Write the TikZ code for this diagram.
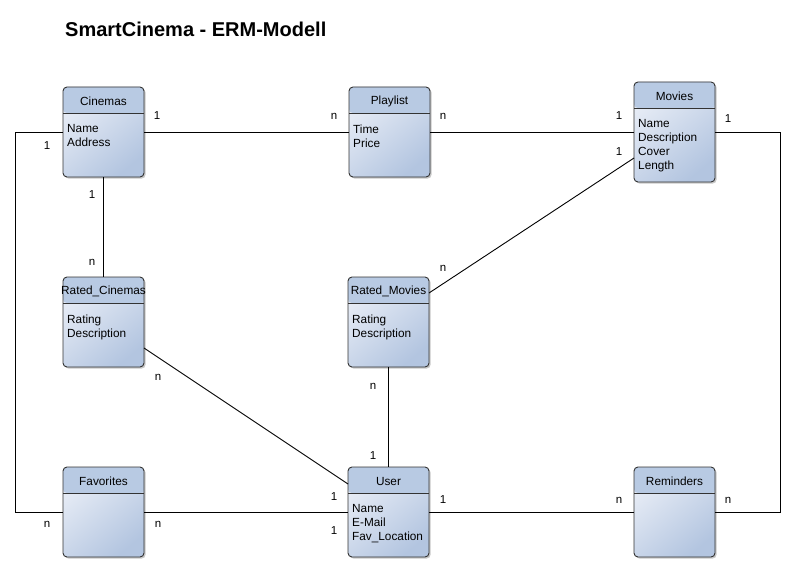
\documentclass[tikz,border=0pt]{standalone}
\usepackage{fontspec}
\setmainfont{Liberation Sans}
\usetikzlibrary{shadows}
\definecolor{headcol}{HTML}{B8CAE3}
\definecolor{bodyA}{HTML}{E8EDF6}
\definecolor{bodyB}{HTML}{B3C5E0}
\definecolor{edgecol}{HTML}{333333}
\tikzset{
  entity/.style={draw=edgecol, line width=0.9pt, rounded corners=4pt,
    minimum width=81pt, minimum height=90pt, inner sep=0pt, outer sep=0pt,
    shading=axis, top color=bodyA, bottom color=bodyB, shading angle=40,
    drop shadow={shadow xshift=1.6pt, shadow yshift=-1.6pt, opacity=0.22, fill=black},
    path picture={
      \fill[headcol] (path picture bounding box.north west) rectangle
        ([yshift=-26pt]path picture bounding box.north east);
      \draw[edgecol, line width=0.9pt] ([yshift=-26pt]path picture bounding box.north west) --
        ([yshift=-26pt]path picture bounding box.north east);
    }},
  etitle/.style={inner sep=0pt, font=\fontsize{11.8}{14}\selectfont},
  eattr/.style={inner sep=0pt, align=left, font=\fontsize{11.8}{14}\selectfont},
  card/.style={inner sep=0pt, font=\fontsize{11.5}{14}\selectfont},
  rel/.style={draw=black, line width=0.9pt}
}
\newcommand\myent[6][90]{%
  \node[entity, minimum height=#1pt, anchor=north west] (#2) at (#3,#4) {};
  \node[etitle] (#2-t) at ([yshift=-14pt]#2.north) {#5};
  \node[eattr, anchor=north west] (#2-a) at ([xshift=4pt,yshift=-37.5pt]#2.north west) {#6};
}
\begin{document}
\begin{tikzpicture}[x=1pt,y=-1pt]
\useasboundingbox[fill=white] (0,0) rectangle (794,572);
\node[anchor=base west, inner sep=0pt, font=\fontsize{20}{22}\selectfont\bfseries] (title) at (65,37) {SmartCinema - ERM-Modell};

\myent{cin}{63}{87}{Cinemas}{Name\\Address}
\myent{pla}{349}{87}{Playlist}{Time\\Price}
\myent[100]{mov}{634}{82}{Movies}{Name\\Description\\Cover\\Length}
\myent{rc}{63}{277}{Rated\_Cinemas}{Rating\\Description}
\myent{rm}{348}{277}{Rated\_Movies}{Rating\\Description}
\myent{fav}{63}{467}{Favorites}{}
\myent{usr}{348}{467}{User}{Name\\E-Mail\\Fav\_Location}
\myent{rem}{634}{467}{Reminders}{}

\coordinate (lx) at (15,0);
\coordinate (rx) at (780,0);
\coordinate (lt) at (cin.west -| lx);
\coordinate (lb) at (fav.west -| lx);
\coordinate (rt) at (mov.east -| rx);
\coordinate (rb) at (rem.east -| rx);

\draw[rel] (cin.east) -- (pla.west);
\draw[rel] (pla.east) -- (mov.west);
\draw[rel] (cin.west) -- (lt) -- (lb) -- (fav.west);
\draw[rel] (mov.east) -- (rt) -- (rb) -- (rem.east);
\draw[rel] (cin.south) -- (rc.north);
\draw[rel] ([yshift=-26pt]rc.east) -- ([yshift=28pt]usr.west);
\draw[rel] ([yshift=-26pt]mov.west) -- ([yshift=29pt]rm.east);
\draw[rel] (rm.south) -- (usr.north);
\draw[rel] (fav.east) -- (usr.west);
\draw[rel] (usr.east) -- (rem.west);

% cardinalities
\node[card] (c1) at (157,116) {1};
\node[card] (c2) at (334,116) {n};
\node[card] (c3) at (443,116) {n};
\node[card] (c4) at (619,116) {1};
\node[card] (c5) at (619,152) {1};
\node[card] (c6) at (728,119) {1};
\node[card] (c7) at (47,146) {1};
\node[card] (c8) at (92,195) {1};
\node[card] (c9) at (92,262) {n};
\node[card] (c10) at (443,268) {n};
\node[card] (c11) at (158,377) {n};
\node[card] (c12) at (373,386) {n};
\node[card] (c13) at (373,456) {1};
\node[card] (c14) at (334,497) {1};
\node[card] (c15) at (334,531) {1};
\node[card] (c16) at (443,500) {1};
\node[card] (c17) at (619,500) {n};
\node[card] (c18) at (728,500) {n};
\node[card] (c19) at (47,524) {n};
\node[card] (c20) at (158,524) {n};
\end{tikzpicture}
\end{document}
